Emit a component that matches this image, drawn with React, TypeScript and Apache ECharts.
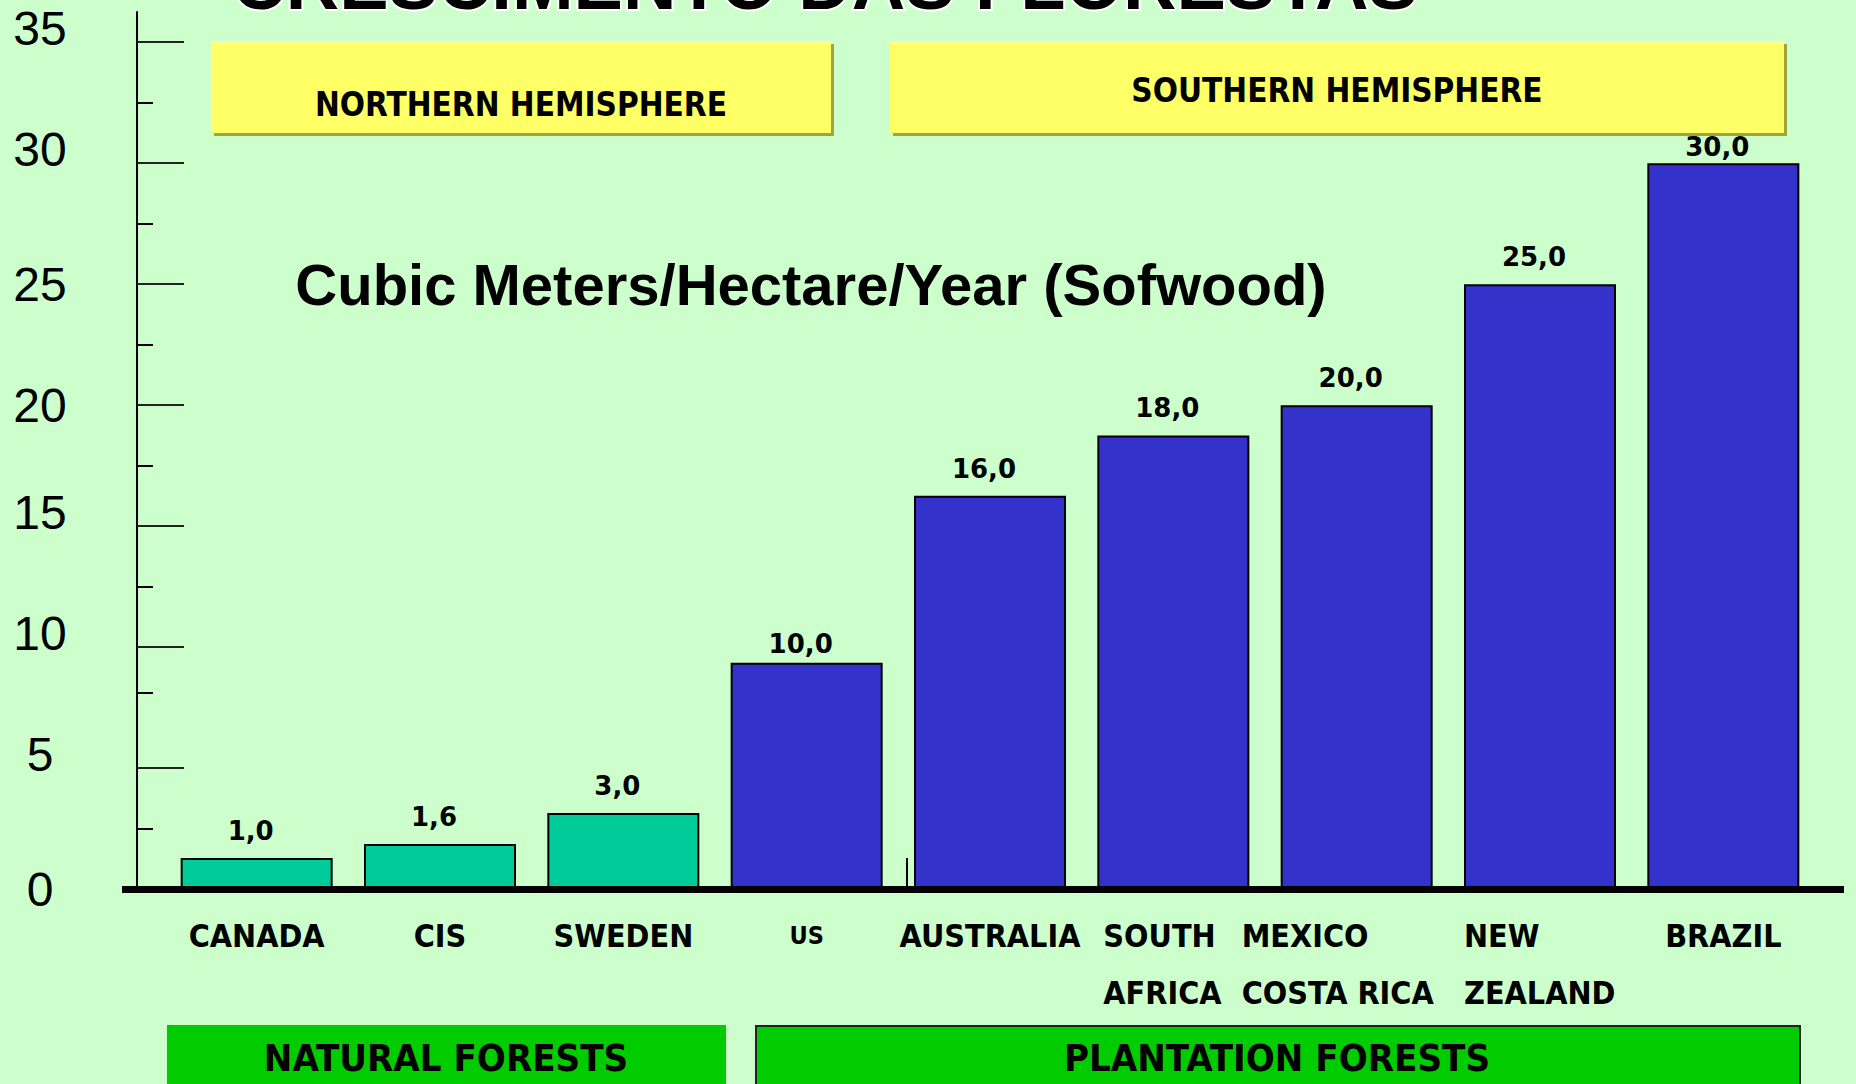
import React, { useEffect, useRef } from "react";
import * as echarts from "echarts";

// ---------- data ----------
const categories = [
  "CANADA",
  "CIS",
  "SWEDEN",
  "US",
  "AUSTRALIA",
  "SOUTH\nAFRICA",
  "MEXICO\nCOSTA RICA",
  "NEW\nZEALAND",
  "BRAZIL",
];
// bar heights as drawn in the picture
const barValues = [1.28, 1.86, 3.14, 9.35, 16.25, 18.75, 20.0, 25.0, 30.0];
// printed value labels
const valueLabels = ["1,0", "1,6", "3,0", "10,0", "16,0", "18,0", "20,0", "25,0", "30,0"];
const forestType = [
  "natural",
  "natural",
  "natural",
  "plantation",
  "plantation",
  "plantation",
  "plantation",
  "plantation",
  "plantation",
];
const yAxisMax = 36.25;
const yLabelsLevel = [0, 20, 25];
const yLabelsRaised = [5, 10, 15, 30, 35];
const yMajorTicks = [0, 5, 10, 15, 20, 25, 30, 35];
const yMinorTicks = [2.5, 8.1, 12.5, 17.5, 22.5, 27.5, 32.5];
const chartTitle = "CRESCIMENTO DAS FLORESTAS";
const unitLabel = "Cubic Meters/Hectare/Year (Sofwood)";
const hemisphereLabels = ["NORTHERN HEMISPHERE", "SOUTHERN HEMISPHERE"];
const forestGroupLabels = ["NATURAL FORESTS", "PLANTATION FORESTS"];

// ---------- styles ----------
const typeColor: Record<string, string> = { natural: "#00CC99", plantation: "#3333CC" };
const NARROW = "'Liberation Sans Narrow', 'Arial Narrow', 'DejaVu Sans Condensed', sans-serif";
const SANS = "'Liberation Sans', Arial, sans-serif";
const VERD = "'DejaVu Sans', Verdana, sans-serif";

const multiWidth: Record<number, number> = { 5: 140, 6: 230, 7: 152 };
const labelDistanceOverride: Record<number, number> = { 3: 6, 8: 3 };

function yellowBox(x: number, y: number, w: number, h: number, text: string, ty: number) {
  return [
    { type: "rect", shape: { x: x + 3, y: y + 3, width: w, height: h }, style: { fill: "#A3A33A" }, z: 1 },
    { type: "rect", shape: { x, y, width: w, height: h }, style: { fill: "#FFFF66" }, z: 2 },
    { type: "rect", shape: { x, y, width: w, height: 3 }, style: { fill: "#FFFF99" }, z: 3 },
    {
      type: "text",
      x: x + w / 2,
      y: ty,
      z: 4,
      style: {
        text,
        fill: "#000",
        fontFamily: NARROW,
        fontWeight: "bold",
        fontSize: 33,
        align: "center",
        verticalAlign: "middle",
      },
    },
  ];
}

export default function App() {
  const ref = useRef<HTMLDivElement>(null);

  useEffect(() => {
    if (!ref.current) return;
    const chart = echarts.init(ref.current, undefined, { renderer: "svg" });

    const base = { fontFamily: NARROW, fontWeight: "bold", fontSize: 32, lineHeight: 57, color: "#000" };
    const richX: any = {
      c: { ...base },
      us: { ...base, fontSize: 25 },
    };
    Object.keys(multiWidth).forEach((k) => {
      richX["m" + k] = { ...base, width: multiWidth[Number(k)], align: "left" };
    });

    const yLabelStyle = {
      show: true,
      margin: 97,
      align: "center",
      fontFamily: SANS,
      fontSize: 48,
      color: "#000",
    };

    const option: any = {
      animation: false,
      backgroundColor: "#CCFFCC",
      grid: { left: 165, right: 41, top: 12, bottom: 195, containLabel: false, outerBoundsMode: "none" },
      xAxis: {
        type: "category",
        data: categories,
        axisLine: { show: true, lineStyle: { color: "#000", width: 7 } },
        axisTick: { show: false },
        splitLine: { show: false },
        axisLabel: {
          interval: 0,
          margin: 18,
          formatter: (value: string, index: number) => {
            const lines = value.split("\n");
            if (lines.length === 1) return index === 3 ? `{us|${value}}` : `{c|${value}}`;
            return lines.map((l) => `{m${index}|${l}}`).join("\n");
          },
          rich: richX,
        },
      },
      yAxis: [
        {
          type: "value",
          position: "left",
          min: 0,
          max: yAxisMax,
          offset: 28,
          splitLine: { show: false },
          axisLine: { show: true, lineStyle: { color: "#000", width: 2 } },
          axisTick: {
            show: true,
            inside: true,
            length: 47,
            customValues: yMajorTicks,
            lineStyle: { color: "#222", width: 2 },
          },
          axisLabel: { ...yLabelStyle, customValues: yLabelsLevel, verticalAlign: "middle" },
        },
        {
          type: "value",
          position: "left",
          min: 0,
          max: yAxisMax,
          offset: 28,
          splitLine: { show: false },
          axisLine: { show: false },
          axisTick: {
            show: true,
            inside: true,
            length: 16,
            customValues: yMinorTicks,
            lineStyle: { color: "#000", width: 2 },
          },
          axisLabel: {
            ...yLabelStyle,
            customValues: yLabelsRaised,
            verticalAlign: "bottom",
            lineHeight: 28,
          },
        },
      ],
      series: [
        {
          type: "bar",
          yAxisIndex: 0,
          barWidth: 152,
          data: barValues.map((v, i) => ({
            value: v,
            itemStyle: { color: typeColor[forestType[i]] },
            label: { distance: labelDistanceOverride[i] ?? 14 },
          })),
          itemStyle: { borderColor: "#000", borderWidth: 2 },
          label: {
            show: true,
            position: "top",
            distance: 14,
            offset: [-6, 0],
            formatter: (p: any) => valueLabels[p.dataIndex],
            fontFamily: VERD,
            fontWeight: "bold",
            fontSize: 26,
            color: "#000",
          },
        },
      ],
      graphic: [
        // title (cut off at the top, as in the source slide)
        {
          type: "text",
          x: 825,
          y: -17,
          z: 5,
          style: {
            text: chartTitle,
            fill: "#000",
            stroke: "#fff",
            lineWidth: 4,
            fontFamily: SANS,
            fontWeight: "bold",
            fontSize: 74,
            align: "center",
            verticalAlign: "middle",
          },
        },
        // unit subtitle
        {
          type: "text",
          x: 811,
          y: 284,
          z: 5,
          style: {
            text: unitLabel,
            fill: "#000",
            fontFamily: SANS,
            fontWeight: "bold",
            fontSize: 58,
            align: "center",
            verticalAlign: "middle",
          },
        },
        ...yellowBox(211, 41, 620, 92, hemisphereLabels[0], 104),
        ...yellowBox(890, 41, 894, 92, hemisphereLabels[1], 90),
        // bottom group boxes
        { type: "rect", shape: { x: 167, y: 1025, width: 559, height: 70 }, style: { fill: "#00CC00" }, z: 1 },
        {
          type: "text",
          x: 446,
          y: 1058,
          z: 2,
          style: {
            text: forestGroupLabels[0],
            fill: "#000",
            fontFamily: NARROW,
            fontWeight: "bold",
            fontSize: 38,
            align: "center",
            verticalAlign: "middle",
          },
        },
        {
          type: "rect",
          shape: { x: 756, y: 1026, width: 1044, height: 70 },
          style: { fill: "#00CC00", stroke: "#222", lineWidth: 2 },
          z: 1,
        },
        {
          type: "text",
          x: 1277,
          y: 1058,
          z: 2,
          style: {
            text: forestGroupLabels[1],
            fill: "#000",
            fontFamily: NARROW,
            fontWeight: "bold",
            fontSize: 38,
            align: "center",
            verticalAlign: "middle",
          },
        },
        // baseline extension beyond the plot area
        { type: "rect", shape: { x: 122, y: 886, width: 1722, height: 7 }, style: { fill: "#000" }, z: 10 },
        // stray divider mark
        { type: "line", shape: { x1: 907, y1: 858, x2: 907, y2: 889 }, style: { stroke: "#000", lineWidth: 2 }, z: 10 },
      ],
    };

    chart.setOption(option);
    return () => chart.dispose();
  }, []);

  return (
    <div
      ref={ref}
      style={{ position: "fixed", left: 0, top: 0, width: 1856, height: 1084 }}
    />
  );
}
